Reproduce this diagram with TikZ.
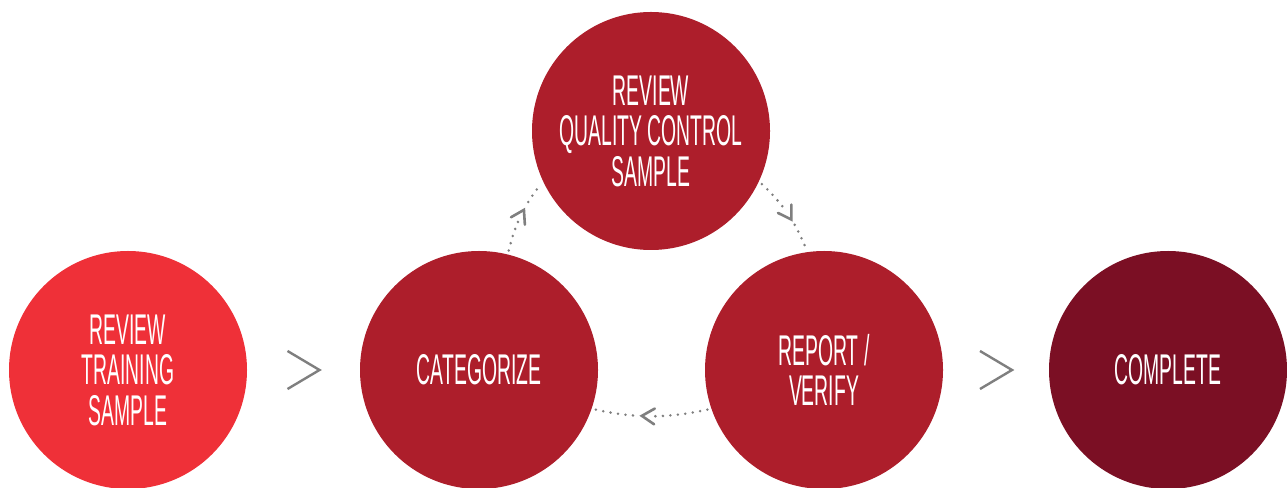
\documentclass[tikz,border=0pt]{standalone}
\usepackage{fontspec}
\usepackage{tikz}
\usetikzlibrary{positioning}
\usetikzlibrary{calc}
\usetikzlibrary{arrows.meta}
\usetikzlibrary{decorations.markings}

\newfontfamily\condfont[FakeStretch=0.45]{Liberation Sans}

\definecolor{trainred}{HTML}{EF3038}
\definecolor{stepred}{HTML}{AD1E2B}
\definecolor{donered}{HTML}{7B0F24}
\definecolor{chevgray}{HTML}{7F7F7F}

\begin{document}
\begin{tikzpicture}[
    x=1pt, y=1pt,
    phase/.style={
        circle,
        minimum size=238pt,
        inner sep=0pt,
        text=white,
        align=center,
        font=\condfont\fontsize{43}{40.5}\selectfont
    },
    loopline/.style={
        chevgray,
        line width=2.8pt,
        line cap=round,
        dash pattern=on 0pt off 7.5pt,
        shorten <=4pt,
        shorten >=4pt,
        bend left=12,
        postaction={decorate},
        decoration={markings,
            mark=at position 0.58 with {
                \fill[white] (-10pt,-11pt) rectangle (4pt,11pt);
                \draw[solid, line width=2.6pt, line cap=round, line join=miter]
                    (-16pt,10pt) -- (0pt,0pt) -- (-16pt,-10pt);
            }}
    },
    bigchev/.style={chevgray, line width=2.4pt}
]

    \useasboundingbox (0,0) rectangle (1287,487);

    % Circles
    \node[phase, fill=trainred] (train) at (128,117) {REVIEW\\TRAINING\\SAMPLE};
    \node[phase, fill=stepred] (cat) at (479,117) {CATEGORIZE};
    \node[phase, fill=stepred] (qc) at (651,356) {REVIEW\\QUALITY CONTROL\\SAMPLE};
    \node[phase, fill=stepred] (report) at (824,117) {REPORT /\\VERIFY};
    \node[phase, fill=donered] (done) at (1168,117) {COMPLETE};

    % Loop
    \draw[loopline] (cat.76) to (qc.205);
    \draw[loopline] (qc.-25) to (report.98);
    \draw[loopline] (report.-161) to (cat.-19);

    % Chevrons
    \draw[bigchev] ($(train)!0.5!(cat)$) ++(-16,19) -- ++(32,-19) -- ++(-32,-19);
    \draw[bigchev] ($(report)!0.5!(done)$) ++(-16,19) -- ++(32,-19) -- ++(-32,-19);

\end{tikzpicture}
\end{document}
